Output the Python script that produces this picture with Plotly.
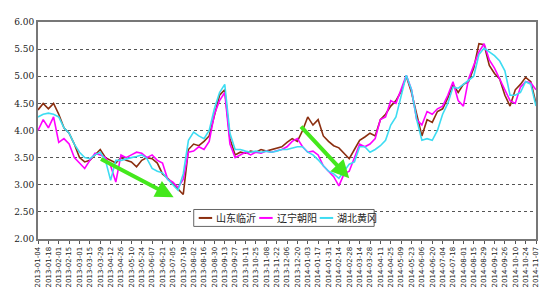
import pandas as pd
import plotly.graph_objects as go

start_date = "2013-01-04"
n_weeks = 97
dates = pd.date_range(start_date, periods=n_weeks, freq="7D")
tick_dates = dates[::2]

series_names = ["山东临沂", "辽宁朝阳", "湖北黄冈"]

shandong = [4.38, 4.50, 4.40, 4.50, 4.30, 4.05, 3.95, 3.75, 3.50, 3.42,
            3.45, 3.55, 3.65, 3.50, 3.45, 3.40, 3.50, 3.45, 3.42, 3.33,
            3.45, 3.50, 3.48, 3.40, 3.20, 3.12, 3.02, 2.92, 2.82, 3.65,
            3.75, 3.72, 3.80, 3.90, 4.30, 4.65, 4.75, 3.85, 3.55, 3.60,
            3.58, 3.62, 3.60, 3.65, 3.62, 3.65, 3.68, 3.70, 3.78, 3.85,
            3.80, 4.00, 4.25, 4.10, 4.20, 3.90, 3.80, 3.72, 3.68, 3.58,
            3.48, 3.65, 3.82, 3.88, 3.95, 3.90, 4.20, 4.30, 4.45, 4.55,
            4.72, 5.00, 4.70, 4.30, 3.90, 4.20, 4.15, 4.35, 4.40, 4.60,
            4.85, 4.70, 4.85, 4.90, 5.15, 5.60, 5.58, 5.20, 5.05, 4.95,
            4.65, 4.45, 4.75, 4.85, 4.98, 4.90, 4.50]

liaoning = [4.00, 4.20, 4.05, 4.25, 3.78, 3.85, 3.75, 3.50, 3.40, 3.30,
            3.45, 3.58, 3.55, 3.50, 3.35, 3.05, 3.55, 3.50, 3.55, 3.60,
            3.58, 3.50, 3.55, 3.45, 3.40, 3.10, 3.05, 2.95, 3.10, 3.60,
            3.62, 3.70, 3.65, 3.80, 4.30, 4.55, 4.70, 3.75, 3.50, 3.55,
            3.60, 3.55, 3.60, 3.58, 3.62, 3.60, 3.62, 3.65, 3.70, 3.80,
            3.85, 3.70, 3.60, 3.62, 3.55, 3.35, 3.25, 3.15, 2.98, 3.20,
            3.25, 3.50, 3.75, 3.70, 3.75, 3.85, 4.20, 4.25, 4.55, 4.50,
            4.78, 5.02, 4.75, 4.20, 4.10, 4.35, 4.30, 4.40, 4.45, 4.65,
            4.90, 4.55, 4.45, 4.95, 5.20, 5.45, 5.60, 5.30, 5.15, 4.95,
            4.75, 4.55, 4.50, 4.80, 4.90, 4.88, 4.75]

hubei = [4.25, 4.30, 4.32, 4.30, 4.25, 4.05, 3.95, 3.75, 3.60, 3.50,
         3.48, 3.55, 3.60, 3.45, 3.08, 3.45, 3.45, 3.48, 3.50, 3.52,
         3.55, 3.48, 3.30, 3.25, 3.22, 3.10, 3.00, 2.90, 3.20, 3.82,
         3.97, 3.90, 3.85, 4.00, 4.40, 4.70, 4.85, 3.95, 3.65, 3.65,
         3.62, 3.60, 3.62, 3.60, 3.62, 3.60, 3.62, 3.65, 3.65, 3.68,
         3.70, 3.70, 3.60, 3.55, 3.46, 3.35, 3.25, 3.20, 3.12, 3.25,
         3.38, 3.42, 3.70, 3.70, 3.60, 3.65, 3.72, 3.82, 4.10, 4.25,
         4.65, 5.02, 4.75, 4.20, 3.82, 3.85, 3.82, 4.00, 4.30, 4.50,
         4.80, 4.78, 4.85, 4.92, 5.00, 5.40, 5.52, 5.45, 5.38, 5.28,
         5.10, 4.65, 4.65, 4.70, 4.90, 4.85, 4.45]

colors = ["#8B2E0F", "#FF00FF", "#3DDCF2"]

# trend arrows: (tail date, tail value, head date, head value)
arrows = [("2013-03-28", 3.49, "2013-07-06", 2.77),
          ("2013-12-23", 4.10, "2014-02-28", 3.12)]

fig = go.Figure()
for name, vals, col in zip(series_names, [shandong, liaoning, hubei], colors):
    fig.add_trace(go.Scatter(x=dates, y=vals, mode="lines", name=name,
                             line=dict(color=col, width=1.6), showlegend=False))

for tx, ty, hx, hy in arrows:
    fig.add_annotation(x=hx, y=hy, ax=tx, ay=ty, xref="x", yref="y",
                       axref="x", ayref="y", showarrow=True, text="",
                       arrowhead=2, arrowsize=0.9, arrowwidth=4,
                       arrowcolor="#44E81C")

# compact legend box (layout, paper coordinates)
lg_x0, lg_x1, lg_y0, lg_y1 = 0.3127, 0.675, 0.058, 0.136
lg_step = 0.1215
fig.add_shape(type="rect", xref="paper", yref="paper",
              x0=lg_x0, x1=lg_x1, y0=lg_y0, y1=lg_y1,
              line=dict(color="#666", width=1), fillcolor="white", layer="above")
lg_yc = (lg_y0 + lg_y1) / 2
for k, (name, col) in enumerate(zip(series_names, colors)):
    sx = lg_x0 + 0.010 + k * lg_step
    fig.add_shape(type="line", xref="paper", yref="paper",
                  x0=sx, x1=sx + 0.027, y0=lg_yc, y1=lg_yc,
                  line=dict(color=col, width=2), layer="above")
    fig.add_annotation(xref="paper", yref="paper", x=sx + 0.031, y=lg_yc,
                       text=name, showarrow=False, xanchor="left", yanchor="middle",
                       font=dict(family="Noto Sans CJK SC", size=10, color="#222"))

fig.update_layout(
    width=550, height=300,
    margin=dict(l=38, r=10, t=22, b=61),
    paper_bgcolor="white", plot_bgcolor="white",
    font=dict(family="DejaVu Sans", size=8, color="#222"),
    showlegend=False,
)
fig.update_xaxes(
    range=[dates[0], dates[-1]],
    tickvals=list(tick_dates), ticktext=[d.strftime("%Y-%m-%d") for d in tick_dates],
    tickangle=-90, tickfont=dict(size=7, family="DejaVu Sans"),
    ticks="outside", ticklen=3, tickcolor="#555",
    showgrid=False, showline=True, linecolor="#777", linewidth=2, mirror=True,
)
fig.update_yaxes(
    range=[2, 6], dtick=0.5, tickformat=".2f",
    tickfont=dict(size=9, family="DejaVu Serif"),
    showgrid=True, gridcolor="#555", griddash="dot", gridwidth=1,
    showline=True, linecolor="#777", linewidth=2, mirror=True,
    ticks="", zeroline=False,
)

fig.write_html("out.html", config={"displayModeBar": False},
               post_script="document.body.style.margin='0';document.body.style.padding='0';")
